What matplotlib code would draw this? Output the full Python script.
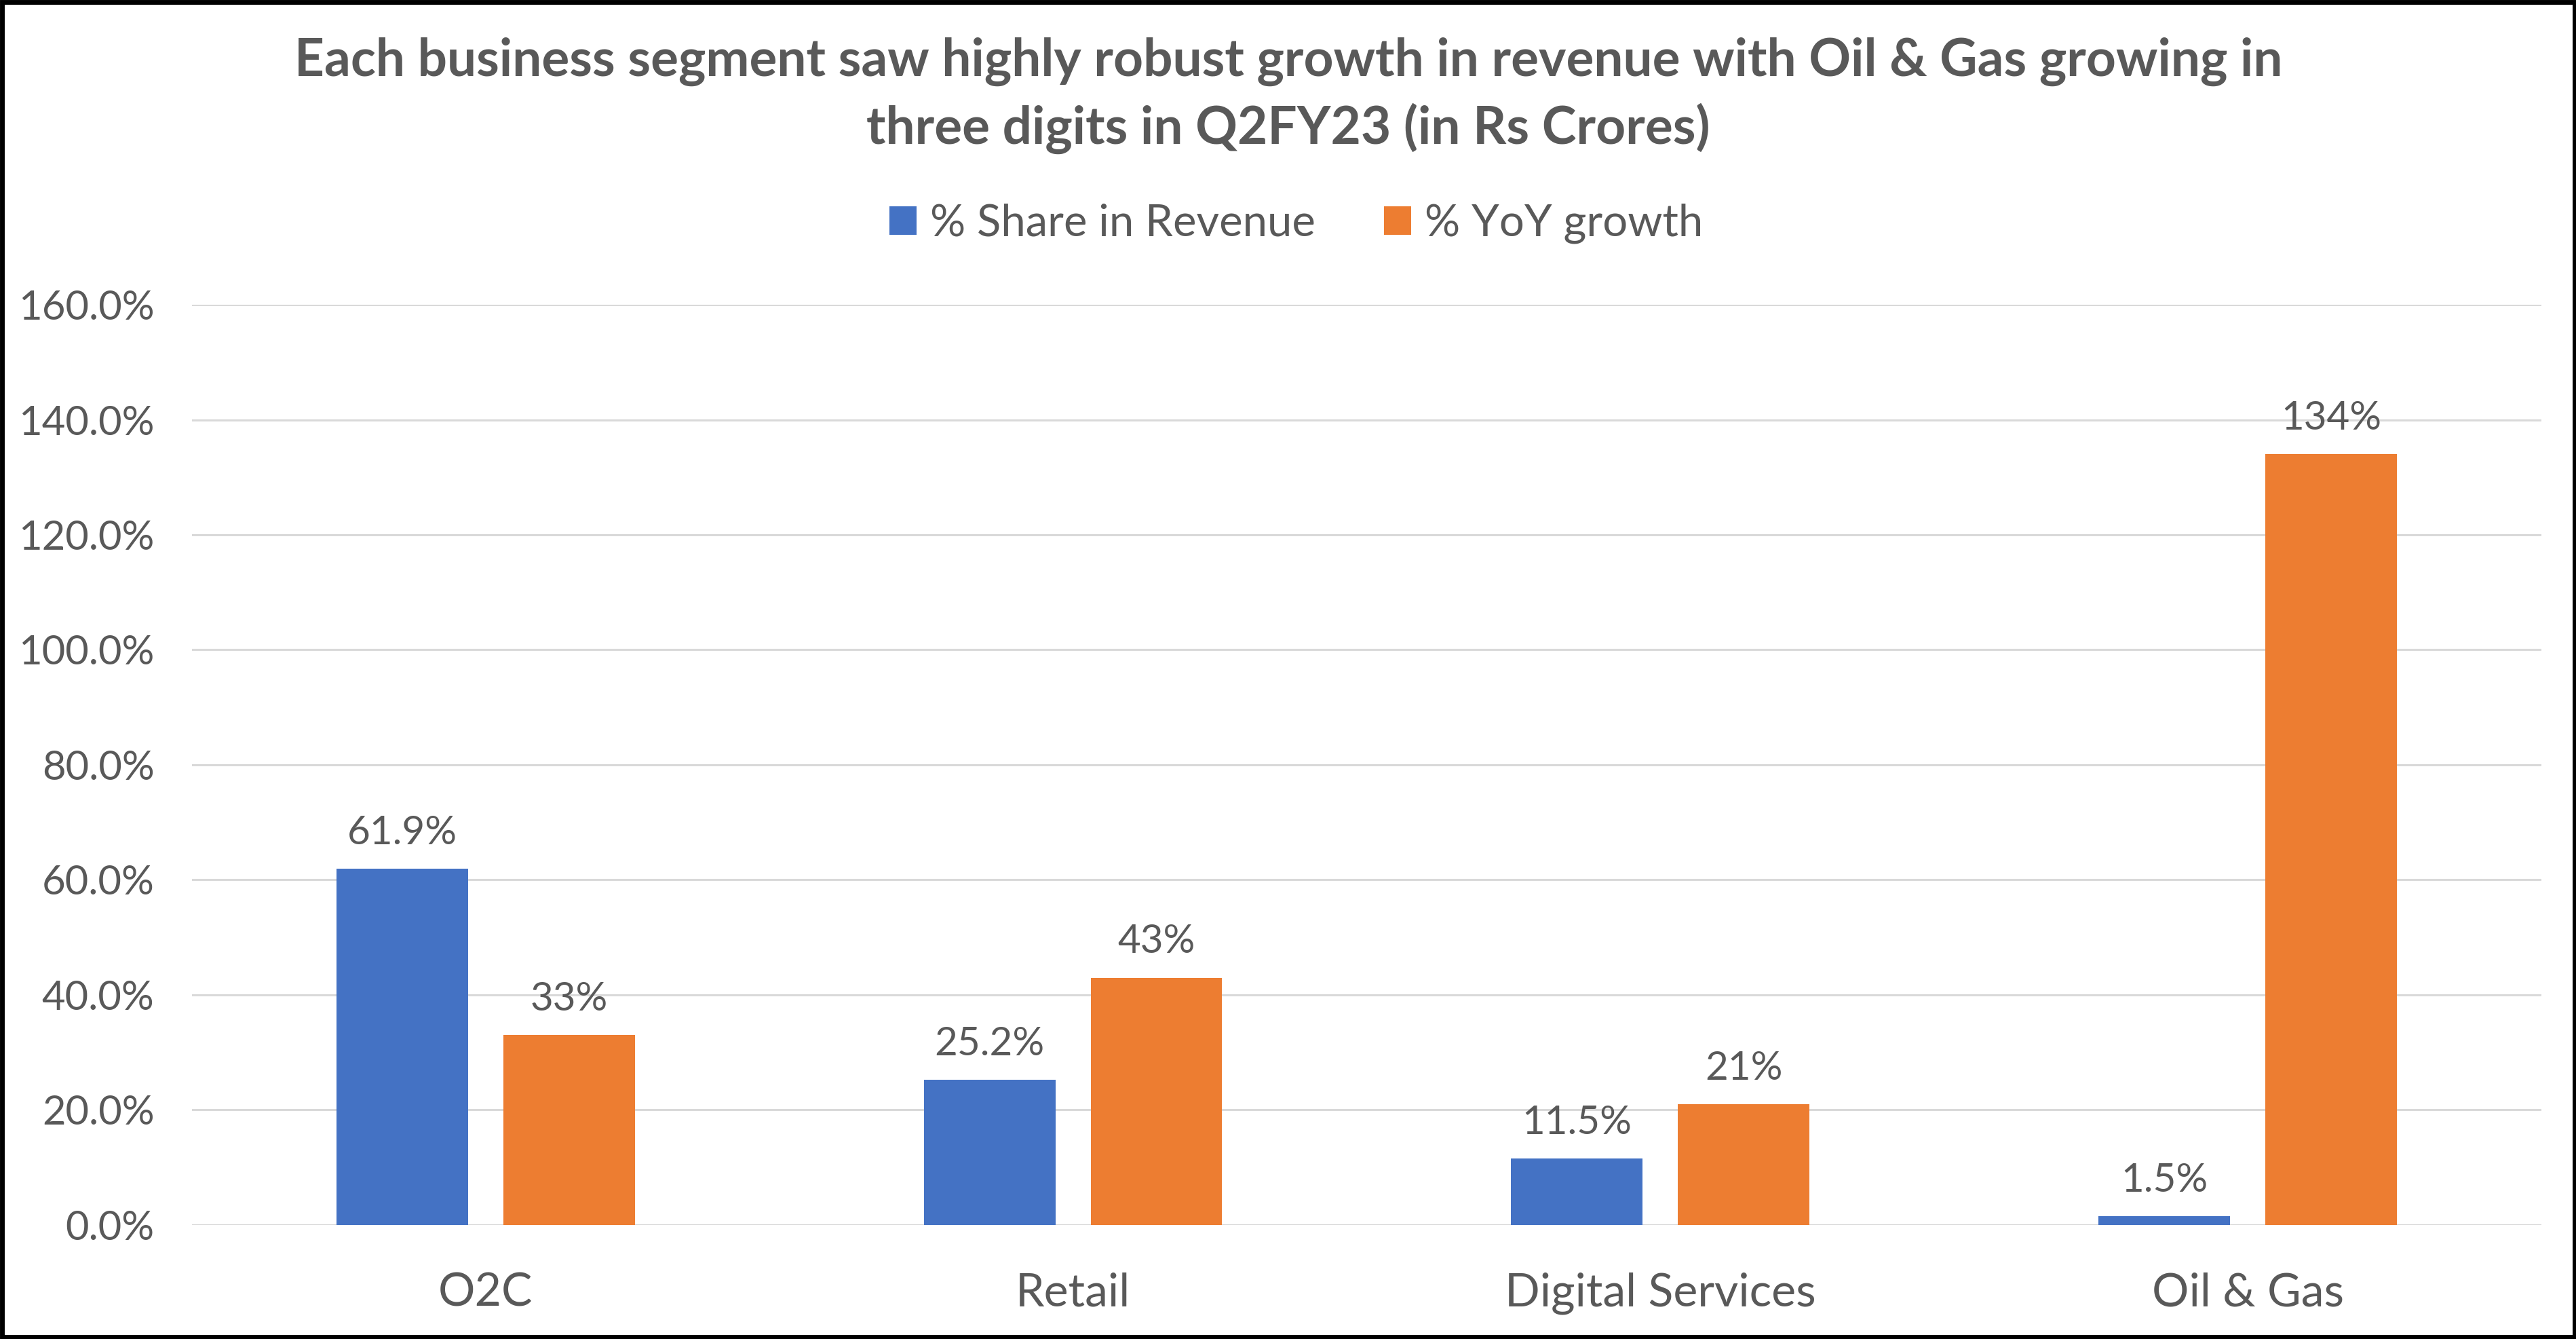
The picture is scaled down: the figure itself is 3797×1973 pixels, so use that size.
import numpy as np
import matplotlib.pyplot as plt
from matplotlib.patches import Rectangle

plt.rcParams['font.family'] = ['Lato', 'DejaVu Sans']

categories = ['O2C', 'Retail', 'Digital Services', 'Oil & Gas']
share = [61.9, 25.2, 11.5, 1.5]   # % Share in Revenue
yoy = [33, 43, 21, 134]           # % YoY growth
share_labels = ['61.9%', '25.2%', '11.5%', '1.5%']
yoy_labels = ['33%', '43%', '21%', '134%']
yticks = [0, 20, 40, 60, 80, 100, 120, 140, 160]

txt = '#595959'
blue = '#4472C4'
orange = '#ED7D31'

fig = plt.figure(figsize=(18.99, 9.865), dpi=200)
ax = fig.add_axes([0.0745, 0.0852, 0.9118, 0.6872])

x = np.arange(len(categories))
w = 0.224
off = 0.142
b1 = ax.bar(x - off, share, w, color=blue, label='% Share in Revenue', zorder=3)
b2 = ax.bar(x + off, yoy, w, color=orange, label='% YoY growth', zorder=3)

for bars, labs in [(b1, share_labels), (b2, yoy_labels)]:
    for r, s in zip(bars, labs):
        ax.annotate(s, (r.get_x() + r.get_width() / 2, r.get_height()),
                    xytext=(0, 19), textcoords='offset points',
                    ha='center', va='center', fontsize=21, color=txt)

ax.set_xlim(-0.5, 3.5)
ax.set_ylim(0, 160)
ax.set_yticks(yticks)
ax.set_yticklabels(['%.1f%%' % v for v in yticks])
ax.set_xticks(x)
ax.set_xticklabels(categories)
ax.tick_params(axis='y', length=0, pad=20, labelsize=21.5, labelcolor=txt)
ax.tick_params(axis='x', length=0, pad=25, labelsize=24.5, labelcolor=txt)
ax.grid(axis='y', color='#D9D9D9', linewidth=1.1, zorder=0)
for s in ax.spines.values():
    s.set_visible(False)

fig.text(0.5, 0.954, 'Each business segment saw highly robust growth in revenue with Oil & Gas growing in',
         ha='center', va='center', fontsize=27.6, fontweight='bold', color=txt)
fig.text(0.5, 0.904, 'three digits in Q2FY23 (in Rs Crores)',
         ha='center', va='center', fontsize=27.6, fontweight='bold', color=txt)

leg = fig.legend(loc='center', bbox_to_anchor=(0.503, 0.833), ncol=2, frameon=False,
                 fontsize=23.5, handlelength=0.62, handleheight=0.62, handletextpad=0.3,
                 columnspacing=1.55)
for t in leg.get_texts():
    t.set_color(txt)

# black frame round the picture
fig.patches.append(Rectangle((0.0008, 0.0015), 0.9984, 0.997, transform=fig.transFigure,
                             fill=False, edgecolor='black', linewidth=2.5))

plt.savefig('out.png')
